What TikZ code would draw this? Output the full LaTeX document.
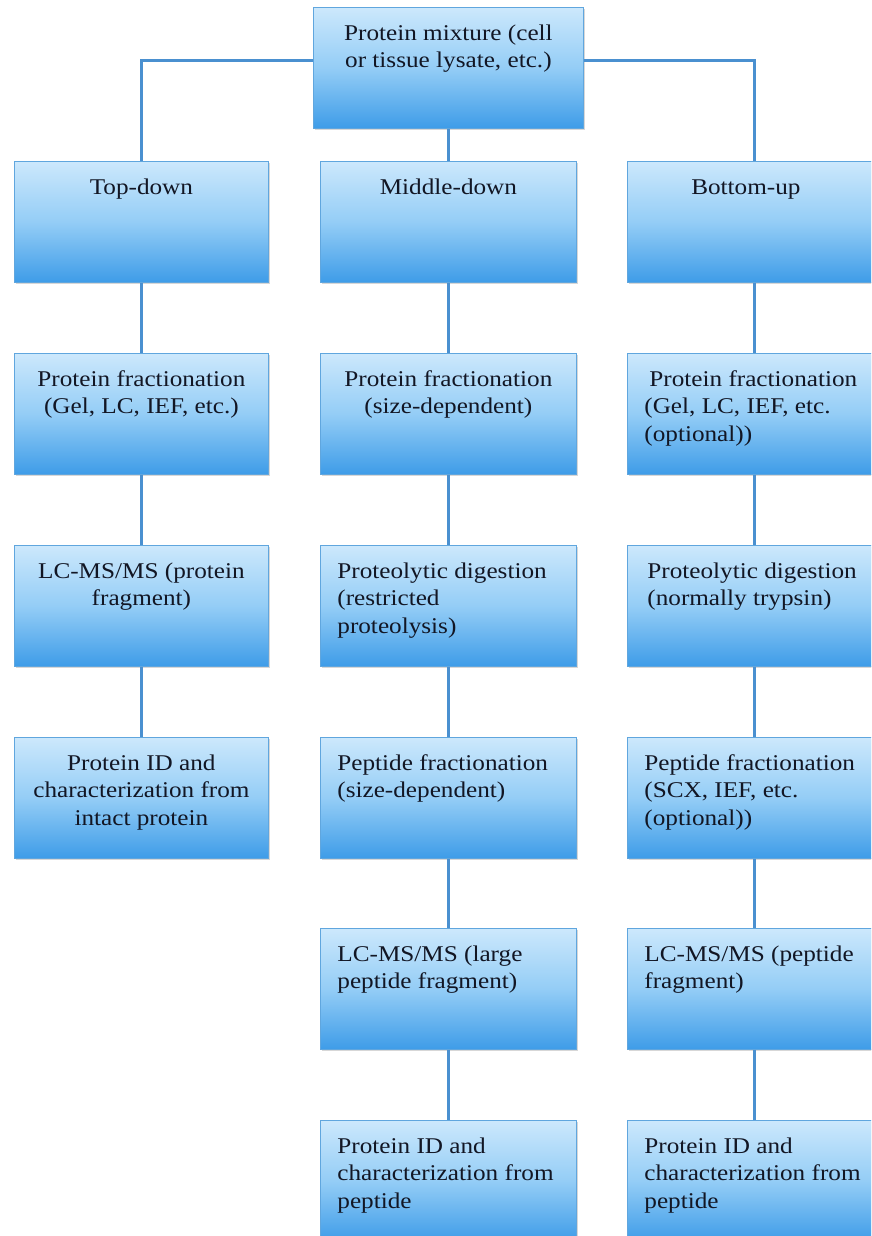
\documentclass[tikz,border=0pt]{standalone}
\usepackage{fontspec}
\setmainfont{Liberation Serif}[FakeStretch=1.12]
\usetikzlibrary{shadows}

\definecolor{bxtop}{RGB}{204,232,252}
\definecolor{bxmid}{RGB}{148,205,246}
\definecolor{bxbot}{RGB}{62,156,232}
\definecolor{bxline}{RGB}{96,166,222}
\definecolor{linkc}{RGB}{74,144,208}
\definecolor{ink}{RGB}{18,22,36}

% fixed-size cell contents: first baseline 33pt below the top edge
\newcommand\ctrcell[2]{\parbox[t][121pt][t]{#1}{\centering\rule{0pt}{33pt}#2}}
\newcommand\lftcell[2]{\parbox[t][121pt][t]{#1}{\raggedright\leftskip=17pt\rule{0pt}{33pt}#2}}

\tikzset{
  cell/.style={draw=bxline, line width=0.8pt,
    top color=bxtop, bottom color=bxbot, middle color=bxmid,
    inner sep=0pt, anchor=north west, text=ink,
    font=\fontsize{22.5}{27.5}\selectfont,
    drop shadow={shadow xshift=1.5pt, shadow yshift=-2pt, opacity=0.22, fill=black!70}},
  link/.style={draw=linkc, line width=3pt},
}

\begin{document}
\begin{tikzpicture}[x=1pt,y=-1pt]
\useasboundingbox (0,0) rectangle (871,1236);
\fill[white] (0,0) rectangle (871,1236);
\clip (0,0) rectangle (871,1236);

% source
\node[cell] (mix) at (313,7) {\ctrcell{270pt}{Protein mixture (cell\\or tissue lysate, etc.)}};

% top-down column
\node[cell] (td)  at (14,161) {\ctrcell{254pt}{Top-down}};
\node[cell] (td2) at (14,353) {\ctrcell{254pt}{Protein fractionation\\(Gel, LC, IEF, etc.)}};
\node[cell] (td3) at (14,545) {\ctrcell{254pt}{LC-MS/MS (protein\\fragment)}};
\node[cell] (td4) at (14,737) {\ctrcell{254pt}{Protein ID and\\characterization from\\intact protein}};

% middle-down column
\node[cell] (md)  at (320,161) {\ctrcell{256pt}{Middle-down}};
\node[cell] (md2) at (320,353) {\ctrcell{256pt}{Protein fractionation\\(size-dependent)}};
\node[cell] (md3) at (320,545) {\lftcell{256pt}{Proteolytic digestion\\(restricted\\proteolysis)}};
\node[cell] (md4) at (320,737) {\lftcell{256pt}{Peptide fractionation\\(size-dependent)}};
\node[cell] (md5) at (320,928) {\lftcell{256pt}{LC-MS/MS (large\\peptide fragment)}};
\node[cell] (md6) at (320,1120) {\lftcell{256pt}{Protein ID and\\characterization from\\peptide}};

% bottom-up column
\node[cell] (bu)  at (627,161) {\ctrcell{255pt}{\hspace*{-18pt}Bottom-up}};
\node[cell] (bu2) at (627,353) {\lftcell{255pt}{\hspace*{5pt}Protein fractionation\\(Gel, LC, IEF, etc.\\(optional))}};
\node[cell] (bu3) at (627,545) {\lftcell{255pt}{\hspace*{3pt}Proteolytic digestion\\\hspace*{3pt}(normally trypsin)}};
\node[cell] (bu4) at (627,737) {\lftcell{255pt}{Peptide fractionation\\(SCX, IEF, etc.\\(optional))}};
\node[cell] (bu5) at (627,928) {\lftcell{255pt}{LC-MS/MS (peptide\\fragment)}};
\node[cell] (bu6) at (627,1120) {\lftcell{255pt}{Protein ID and\\characterization from\\peptide}};

% connectors
\draw[link] ([yshift=7pt]mix.west) -| (td.north);
\draw[link] ([yshift=7pt]mix.east) -| (bu.north);
\draw[link] (mix.south) -- (md.north);
\draw[link] (td.south) -- (td2.north);
\draw[link] (td2.south) -- (td3.north);
\draw[link] (td3.south) -- (td4.north);
\draw[link] (md.south) -- (md2.north);
\draw[link] (md2.south) -- (md3.north);
\draw[link] (md3.south) -- (md4.north);
\draw[link] (md4.south) -- (md5.north);
\draw[link] (md5.south) -- (md6.north);
\draw[link] (bu.south) -- (bu2.north);
\draw[link] (bu2.south) -- (bu3.north);
\draw[link] (bu3.south) -- (bu4.north);
\draw[link] (bu4.south) -- (bu5.north);
\draw[link] (bu5.south) -- (bu6.north);
\end{tikzpicture}
\end{document}
